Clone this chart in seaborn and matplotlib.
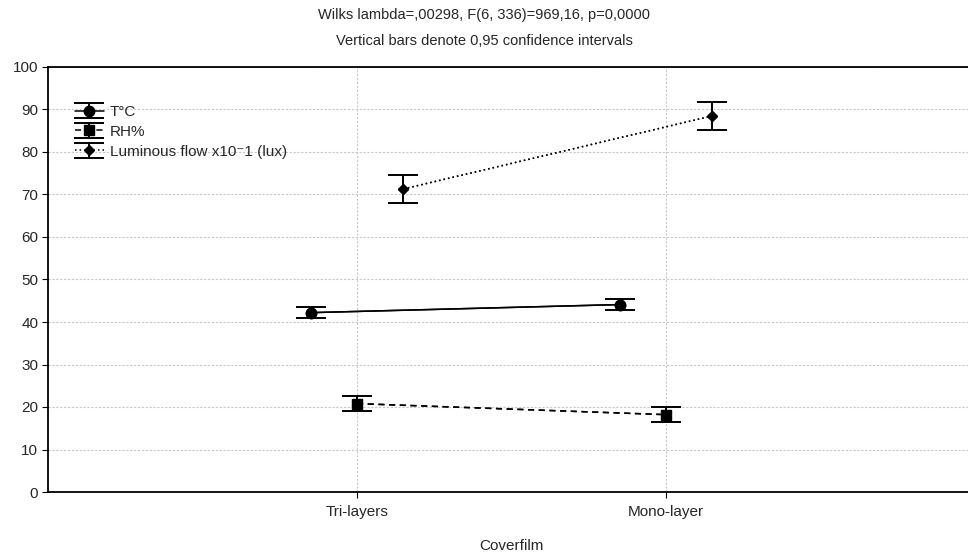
import numpy as np
import pandas as pd
import matplotlib
matplotlib.use("Agg")
import matplotlib.pyplot as plt
import seaborn as sns

categories = ["Tri-layers", "Mono-layer"]
series_names = ["T°C", "RH%", "Luminous flow x10⁻1 (lux)"]
temp_mean = [42.2, 44.1]
temp_ci = [1.25, 1.25]
rh_mean = [20.8, 18.2]
rh_ci = [1.75, 1.7]
lum_mean = [71.3, 88.5]
lum_ci = [3.3, 3.25]
y_ticks = [0, 10, 20, 30, 40, 50, 60, 70, 80, 90, 100]

sns.set_style("white")
plt.rcParams["font.family"] = ["Liberation Sans", "DejaVu Sans"]

fig = plt.figure(figsize=(9.68, 5.54), dpi=100)
ax = fig.add_axes([48 / 968, 62 / 554, 927 / 968, 425 / 554])

means = [temp_mean, rh_mean, lum_mean]
cis = [temp_ci, rh_ci, lum_ci]
offsets = [-0.15, 0.0, 0.15]
markers = ["o", "s", "D"]
msizes = [7.5, 7, 5.5]
linestyles = ["-", (0, (4, 3)), (0, (1, 2))]

rows = []
for name, m, c, off in zip(series_names, means, cis, offsets):
    for i, cat in enumerate(categories):
        rows.append({"series": name, "cat": cat, "pos": i + off, "mean": m[i], "ci": c[i]})
df = pd.DataFrame(rows)

handles = []
for name, mk, ms, ls in zip(series_names, markers, msizes, linestyles):
    sub = df[df["series"] == name]
    sns.lineplot(data=sub, x="pos", y="mean", ax=ax, color="black", lw=1.1,
                 linestyle=ls, marker=mk, markersize=ms, markeredgecolor="black",
                 legend=False, estimator=None, sort=False)
    eb = ax.errorbar(sub["pos"], sub["mean"], yerr=sub["ci"], fmt=mk, color="black",
                     ms=ms, ecolor="black", elinewidth=1.4, capsize=11, capthick=1.4,
                     linestyle=ls, lw=1.1)
    handles.append(eb)

ax.set_xlim(-1, 2)
ax.set_ylim(0, 100)
ax.set_xticks(range(len(categories)))
ax.set_xticklabels(categories)
ax.set_yticks(y_ticks)
ax.tick_params(axis="both", labelsize=11, length=4, direction="out", color="black",
               left=True, bottom=True, pad=3)
ax.tick_params(axis="x", pad=5.5)
ax.grid(True, color="#c8c8c8", linestyle=(0, (2, 1.5)), lw=0.8)
ax.set_axisbelow(True)
for s in ["left", "bottom", "top"]:
    ax.spines[s].set_color("black")
    ax.spines[s].set_linewidth(1.3)
ax.spines["right"].set_visible(False)
ax.set_xlabel("Coverfilm", fontsize=11, va="center")
ax.xaxis.set_label_coords(0.5, (554 - 546 - 62) / 425)
ax.set_ylabel("")

fig.text(0.5, 1 - 15 / 554, "Wilks lambda=,00298, F(6, 336)=969,16, p=0,0000",
         ha="center", va="center", fontsize=10.5)
fig.text(0.5, 1 - 41 / 554, "Vertical bars denote 0,95 confidence intervals",
         ha="center", va="center", fontsize=10.5)

leg = ax.legend(handles, series_names, loc="upper left", bbox_to_anchor=(0.0225, 0.925),
                frameon=False, fontsize=11, handlelength=1.9, handletextpad=0.4,
                labelspacing=0.38, borderaxespad=0)

fig.savefig("out.png", dpi=100)
